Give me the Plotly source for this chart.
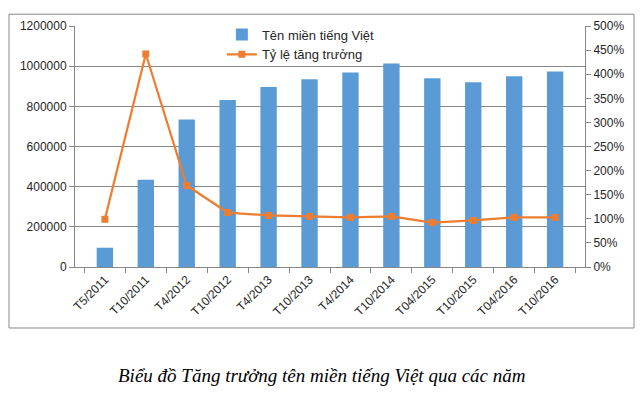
import plotly.graph_objects as go

categories = ["T5/2011", "T10/2011", "T4/2012", "T10/2012", "T4/2013", "T10/2013",
              "T4/2014", "T10/2014", "T04/2015", "T10/2015", "T04/2016", "T10/2016"]
domains = [96000, 434000, 734000, 832000, 896000, 935000,
           969000, 1013000, 940000, 920000, 950000, 974000]
growth = [0.99, 4.42, 1.69, 1.13, 1.07, 1.05,
          1.03, 1.05, 0.92, 0.965, 1.03, 1.03]
left_ticks = [0, 200000, 400000, 600000, 800000, 1000000, 1200000]
right_ticks = [0, 0.5, 1, 1.5, 2, 2.5, 3, 3.5, 4, 4.5, 5]

bar_name = "Tên miền tiếng Việt"
line_name = "Tỷ lệ tăng trưởng"
caption = "Biểu đồ Tăng trưởng tên miền tiếng Việt qua các năm"

grid = "#888888"
txt = "#262626"
font_family = "Liberation Sans, Arial, sans-serif"

fig = go.Figure()
fig.add_trace(go.Bar(x=categories, y=domains, name=bar_name,
                     marker=dict(color="#5B9BD5", line=dict(width=0)), yaxis="y"))
fig.add_trace(go.Scatter(x=categories, y=growth, name=line_name, yaxis="y2",
                         mode="lines+markers",
                         line=dict(color="#ED7D31", width=2.25),
                         marker=dict(symbol="square", size=7, color="#ED7D31")))

# page body has an 8px margin, so the figure is offset by 8px
fig.update_layout(
    width=635, height=387,
    margin=dict(l=67, r=58, t=14, b=128),
    paper_bgcolor="white", plot_bgcolor="white",
    font=dict(family=font_family, size=12, color=txt),
    bargap=0.6,
    showlegend=True,
    legend=dict(x=0.288, y=1.027, xanchor="left", yanchor="top",
                bgcolor="rgba(0,0,0,0)", font=dict(size=13, color=txt),
                tracegroupgap=2, itemwidth=30),
    xaxis=dict(type="category", showline=True, linecolor=grid, linewidth=1,
               ticks="outside", tickson="boundaries", ticklen=5, tickcolor=grid,
               tickangle=-45, showgrid=False, tickfont=dict(size=12, color=txt)),
    yaxis=dict(range=[0, 1200000], tickvals=left_ticks, tickformat="d",
               showgrid=True, gridcolor=grid, gridwidth=1,
               showline=True, linecolor=grid, linewidth=1,
               ticks="outside", ticklen=5, tickcolor=grid, zeroline=False,
               tickfont=dict(size=12, color=txt)),
    yaxis2=dict(range=[0, 5], tickvals=right_ticks, tickformat=".0%",
                overlaying="y", side="right", showgrid=False,
                showline=True, linecolor=grid, linewidth=1,
                ticks="outside", ticklen=5, tickcolor=grid, zeroline=False,
                tickfont=dict(size=12, color=txt)),
)

# outer chart border
fig.add_shape(type="rect", xref="paper", yref="paper",
              x0=(9 - 75) / 510, x1=(634 - 75) / 510,
              y0=(267 - 329) / 245, y1=(267 - 10) / 245,
              line=dict(color=grid, width=1), fillcolor="rgba(0,0,0,0)", layer="below")

fig.add_annotation(text=caption, xref="paper", yref="paper",
                   x=(321 - 75) / 510, y=(267 - 377) / 245,
                   xanchor="center", yanchor="middle", showarrow=False,
                   font=dict(family="Liberation Serif, Times New Roman, serif",
                             size=19, color="#000000", style="italic"))

fig.write_html("out.html")
